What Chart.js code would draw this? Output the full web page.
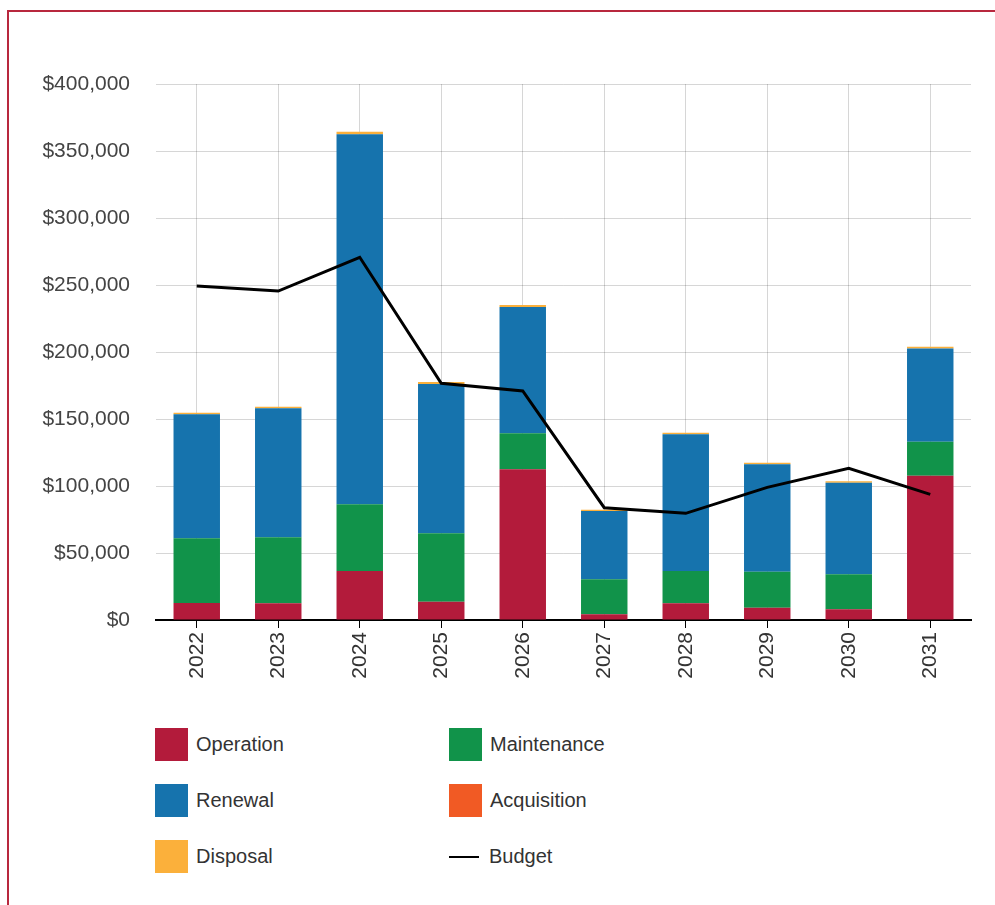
<!DOCTYPE html>
<html>
<head>
<meta charset="utf-8">
<script src="https://cdn.jsdelivr.net/npm/chart.js@4"></script>
<style>
    html, body { margin: 0; padding: 0; background: #fff; overflow: hidden; }
    body { width: 995px; height: 905px; position: relative; font-family: "Liberation Sans", Arial, sans-serif; }
    .frame { position: absolute; left: 7px; top: 10px; width: 1100px; height: 1000px;
             border-left: 2px solid #b8283e; border-top: 2px solid #b8283e; }
    .chart-box { position: absolute; left: 0; top: 0; width: 995px; height: 705px; }
    #legend { position: absolute; left: 155px; top: 728px; display: grid;
              grid-template-columns: 294px 294px; row-gap: 23px; }
    .item { display: flex; align-items: center; height: 33px; font-size: 20px; color: #333; }
    .swatch { width: 33px; height: 33px; margin-right: 8px; }
    .dash { width: 30px; height: 2px; margin: 0 10px 0 0; }
</style>
</head>
<body>
<div class="frame"></div>
<div class="chart-box"><canvas id="lifecycle-chart"></canvas></div>
<div id="legend"></div>

<script>
// Forecast lifecycle costs per year
const years = ['2022', '2023', '2024', '2025', '2026', '2027', '2028', '2029', '2030', '2031'];
const operation   = [12700, 12500, 36600, 13700, 112500, 4300, 12500, 9200, 8000, 107700];
const maintenance = [48300, 49200, 49700, 51000, 26800, 26100, 24100, 26800, 26100, 25400];
const renewal     = [92500, 96300, 276200, 111400, 94300, 50900, 102000, 80200, 68400, 69600];
const acquisition = [0, 0, 0, 0, 0, 0, 0, 0, 0, 0];
const disposal    = [1200, 1200, 1800, 1500, 1500, 900, 1100, 1100, 1100, 1200];
const budget      = [249300, 245500, 270700, 176600, 170900, 83800, 79600, 99000, 113200, 93800];
const yTicks = [0, 50000, 100000, 150000, 200000, 250000, 300000, 350000, 400000];

const colors = {
    operation: '#b31b3b',
    maintenance: '#11934a',
    renewal: '#1673ad',
    acquisition: '#f15a24',
    disposal: '#fbb03b',
    budget: '#000000'
};

const money = v => '$' + v.toLocaleString('en-US');

function barSet(label, data, color) {
    return {
        type: 'bar',
        label: label,
        data: data,
        backgroundColor: color,
        borderWidth: 0,
        stack: 'costs',
        order: 1,
        barPercentage: 0.57,
        categoryPercentage: 1
    };
}

Chart.defaults.font.family = '"Liberation Sans", Arial, sans-serif';

const chart = new Chart(document.getElementById('lifecycle-chart'), {
    data: {
        labels: years,
        datasets: [
            barSet('Operation', operation, colors.operation),
            barSet('Maintenance', maintenance, colors.maintenance),
            barSet('Renewal', renewal, colors.renewal),
            barSet('Acquisition', acquisition, colors.acquisition),
            barSet('Disposal', disposal, colors.disposal),
            {
                type: 'line',
                label: 'Budget',
                data: budget,
                borderColor: colors.budget,
                backgroundColor: colors.budget,
                borderWidth: 3,
                pointRadius: 0,
                tension: 0,
                fill: false,
                stack: 'budget',
                order: 0
            }
        ]
    },
    options: {
        responsive: true,
        maintainAspectRatio: false,
        animation: false,
        layout: { padding: { top: 84, right: 24, left: 0, bottom: 0 } },
        plugins: {
            legend: { display: false },
            tooltip: { enabled: false }
        },
        scales: {
            x: {
                stacked: true,
                z: 1,
                grid: {
                    color: 'rgba(0, 0, 0, 0.16)',
                    tickColor: '#000',
                    tickLength: 8,
                    offset: false
                },
                border: { color: '#000', width: 2 },
                ticks: {
                    minRotation: 90,
                    maxRotation: 90,
                    padding: 4,
                    color: '#333',
                    font: { size: 21 }
                },
                afterFit: scale => { scale.height = 85; }
            },
            y: {
                stacked: true,
                min: 0,
                max: 400000,
                grid: { color: 'rgba(0, 0, 0, 0.16)', drawTicks: false },
                border: { display: false },
                afterBuildTicks: scale => { scale.ticks = yTicks.map(v => ({ value: v })); },
                ticks: {
                    padding: 26,
                    color: '#444',
                    font: { size: 21 },
                    callback: v => money(v)
                },
                afterFit: scale => { scale.width = 156; }
            }
        }
    }
});

// Two-column legend built from the chart's datasets
const legend = document.getElementById('legend');
chart.data.datasets.forEach(ds => {
    const item = document.createElement('div');
    item.className = 'item';
    const mark = document.createElement('span');
    if (ds.type === 'line') {
        mark.className = 'dash';
        mark.style.background = ds.borderColor;
    } else {
        mark.className = 'swatch';
        mark.style.background = ds.backgroundColor;
    }
    const text = document.createElement('span');
    text.textContent = ds.label;
    item.appendChild(mark);
    item.appendChild(text);
    legend.appendChild(item);
});
</script>
</body>
</html>
